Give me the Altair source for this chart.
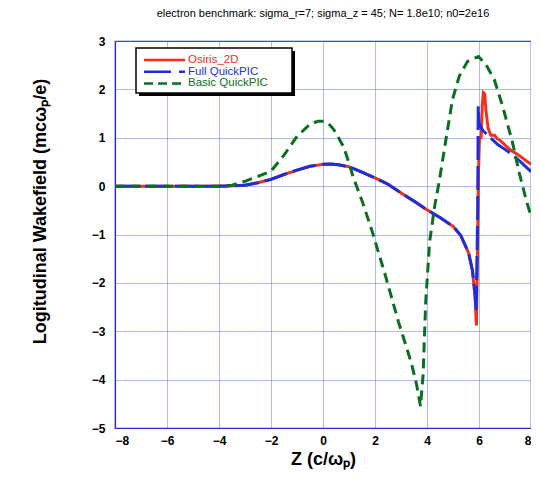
import altair as alt
import pandas as pd

# ---------------- data ----------------
osiris_x = [-8, -6, -4, -3.5, -3, -2.5, -2, -1.5, -1, -0.5, 0, 0.3, 0.6, 1, 1.5, 2, 2.5, 3, 3.5, 4,
            4.5, 5, 5.3, 5.6, 5.75, 5.85, 5.9, 5.94, 5.98, 6.02, 6.08, 6.13, 6.17, 6.22, 6.27, 6.35,
            6.45, 6.6, 6.7, 6.8, 7.0, 7.2, 7.5, 7.8, 8.0]
osiris_y = [0, 0, 0, 0.005, 0.02, 0.07, 0.14, 0.24, 0.33, 0.41, 0.45, 0.455, 0.44, 0.40, 0.29, 0.17,
            0.04, -0.14, -0.31, -0.49, -0.65, -0.83, -1.02, -1.38, -1.75, -2.3, -2.88, -1.5, 0.3, 1.0,
            1.0, 1.7, 1.93, 1.9, 1.55, 1.2, 1.05, 1.05, 0.98, 0.95, 0.85, 0.75, 0.65, 0.53, 0.45]

full_x = [-8, -6, -4, -3.5, -3, -2.5, -2, -1.5, -1, -0.5, 0, 0.3, 0.6, 1, 1.5, 2, 2.5, 3, 3.5, 4,
          4.5, 5, 5.3, 5.6, 5.75, 5.85, 5.89, 5.95, 5.97, 6.0, 6.15, 6.4, 6.72, 7.0, 7.3, 7.6, 8.0]
full_y = [0, 0, 0, 0.005, 0.02, 0.07, 0.14, 0.24, 0.33, 0.41, 0.45, 0.455, 0.44, 0.40, 0.29, 0.17,
          0.04, -0.14, -0.31, -0.49, -0.65, -0.83, -1.02, -1.38, -1.75, -2.25, -2.6, -0.5, 1.65, 1.3,
          1.15, 1.02, 0.86, 0.76, 0.64, 0.5, 0.3]

basic_x = [-8, -6, -4, -3.5, -3, -2.5, -2, -1.5, -1, -0.5, -0.2, 0.05, 0.2, 0.4, 0.6, 0.8, 1.0, 1.15,
           1.5, 1.9, 2.4, 2.9, 3.4, 3.6, 3.75, 3.85, 3.95, 4.1, 4.3, 4.47, 4.73, 4.98, 5.24, 5.56,
           5.98, 6.27, 6.59, 6.91, 7.29, 7.55, 7.81, 8.0]
basic_y = [0, 0, 0, 0.02, 0.1, 0.2, 0.31, 0.64, 1.03, 1.28, 1.34, 1.34, 1.3, 1.18, 1.0, 0.8, 0.48, 0.2,
           -0.3, -0.95, -1.85, -2.8, -3.66, -4.1, -4.55, -3.9, -2.4, -1.15, -0.4, 0.1, 0.97, 1.79,
           2.27, 2.58, 2.68, 2.51, 2.2, 1.65, 0.9, 0.27, -0.28, -0.62]

series_names = ["Osiris_2D", "Full QuickPIC", "Basic QuickPIC"]
x_ticks = [-8, -6, -4, -2, 0, 2, 4, 6, 8]
y_ticks = [-5, -4, -3, -2, -1, 0, 1, 2, 3]

RED = "#f2301a"
BLUE = "#1c2fdc"
GREEN = "#0b6e22"
AXIS = "#2233cc"
FONT = "Liberation Sans"

rows = []
for name, xs, ys in zip(series_names, [osiris_x, full_x, basic_x], [osiris_y, full_y, basic_y]):
    for i, (a, b) in enumerate(zip(xs, ys)):
        rows.append({"series": name, "z": a, "E": b, "i": i})
df = pd.DataFrame(rows)

xenc = alt.X("z:Q", scale=alt.Scale(domain=[-8, 8], nice=False),
             axis=alt.Axis(values=x_ticks, title="Z (c/ωₚ)", grid=True, ticks=False,
                           labelPadding=7, titlePadding=4))
yenc = alt.Y("E:Q", scale=alt.Scale(domain=[-5, 3], nice=False),
             axis=alt.Axis(values=y_ticks, title="Logitudinal Wakefield (mcωₚ/e)", grid=True,
                           ticks=False, labelPadding=10, titleX=-66, titleY=170))

base = alt.Chart(df)


def line(name, color, dash):
    return base.transform_filter(alt.datum.series == name).mark_line(
        color=color, strokeWidth=3, strokeDash=dash, clip=True
    ).encode(x=xenc, y=yenc, order="i:Q")


red = line("Osiris_2D", RED, [1, 0])
blue = line("Full QuickPIC", BLUE, [24, 6])
green = line("Basic QuickPIC", GREEN, [10, 6])

one = alt.Data(values=[{}])
# legend box (pixel placement inside plot area)
shadow = alt.Chart(one).mark_rect(color="black").encode(
    x=alt.value(24), x2=alt.value(180), y=alt.value(10), y2=alt.value(55))
box = alt.Chart(one).mark_rect(fill="white", stroke="black", strokeWidth=1.5).encode(
    x=alt.value(21), x2=alt.value(177), y=alt.value(7), y2=alt.value(52))

leg_layers = []
for k, (name, color, dash) in enumerate(zip(series_names, [RED, BLUE, GREEN],
                                             [[1, 0], [27, 8], [9, 5]])):
    yy = 19 + k * 11.7
    leg_layers.append(alt.Chart(one).mark_rule(color=color, strokeWidth=2.5, strokeDash=dash).encode(
        x=alt.value(29), x2=alt.value(70), y=alt.value(yy)))
    leg_layers.append(alt.Chart(one).mark_text(
        text=name, color=color, font=FONT, fontSize=11.5, align="left", baseline="middle").encode(
        x=alt.value(73), y=alt.value(yy)))

chart = alt.layer(red, blue, green, shadow, box, *leg_layers).properties(
    width=416, height=387,
    autosize=alt.AutoSizeParams(type="none"),
    padding={"left": 107, "top": 33, "right": 0, "bottom": 44},
    title=alt.TitleParams("electron benchmark: sigma_r=7; sigma_z = 45; N= 1.8e10; n0=2e16",
                          fontSize=11, fontWeight="normal", font=FONT, anchor="middle",
                          color="black", offset=16),
).configure_axis(
    labelFont=FONT, labelFontSize=12, labelFontWeight="bold", labelColor="black",
    titleFont=FONT, titleFontSize=18, titleFontWeight="bold", titleColor="black",
    domainColor=AXIS, domainWidth=1.2,
    gridColor="#5566ee", gridDash=[1, 1], gridWidth=1, gridOpacity=0.9,
).configure_view(stroke=AXIS, strokeWidth=1.2)

chart.save("out.html", embed_options={"renderer": "svg", "actions": False})
